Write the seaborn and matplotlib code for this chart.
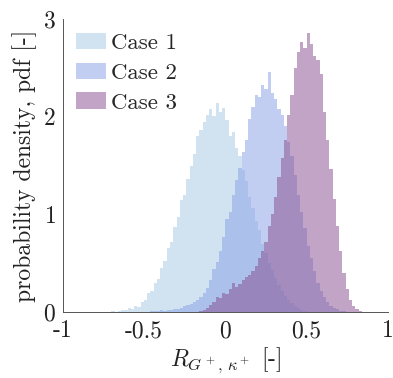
import numpy as np
import pandas as pd
import seaborn as sns
import matplotlib.pyplot as plt

# histogram bins (pdf), bin width 0.02
bin_width = 0.02

case1_start = -0.72
case1_pdf = [0.00, 0.01, 0.00, 0.01, 0.02, 0.02, 0.04, 0.03, 0.06, 0.05,
             0.10, 0.12, 0.19, 0.22, 0.30, 0.34, 0.45, 0.52, 0.66, 0.72,
             0.87, 0.97, 1.15, 1.20, 1.36, 1.50, 1.62, 1.80, 1.86, 1.95,
             2.02, 2.08, 2.01, 2.14, 2.05, 2.09, 1.97, 1.80, 1.84, 1.68,
             1.60, 1.45, 1.34, 1.18, 1.07, 0.93, 0.84, 0.70, 0.60, 0.50,
             0.43, 0.35, 0.28, 0.22, 0.16, 0.12, 0.09, 0.06, 0.04, 0.02,
             0.01]

case2_start = -0.48
case2_pdf = [0.00, 0.01, 0.01, 0.01, 0.02, 0.01, 0.02, 0.02, 0.03, 0.03,
             0.04, 0.06, 0.07, 0.08, 0.10, 0.12, 0.15, 0.19, 0.25, 0.33,
             0.44, 0.51, 0.62, 0.77, 0.95, 1.02, 1.20, 1.35, 1.47, 1.64,
             1.76, 1.98, 2.10, 2.22, 2.20, 2.32, 2.28, 2.46, 2.24, 2.18,
             2.08, 2.02, 1.90, 1.74, 1.60, 1.40, 1.20, 1.02, 0.86, 0.68,
             0.55, 0.42, 0.30, 0.21, 0.15, 0.10, 0.06, 0.04, 0.03, 0.01,
             0.01]

case3_start = -0.18
case3_pdf = [0.00, 0.01, 0.02, 0.04, 0.07, 0.10, 0.15, 0.14, 0.19, 0.18,
             0.24, 0.30, 0.26, 0.29, 0.33, 0.36, 0.38, 0.42, 0.47, 0.55,
             0.62, 0.72, 0.88, 1.00, 1.18, 1.38, 1.58, 1.76, 2.02, 2.22,
             2.50, 2.66, 2.76, 2.70, 2.86, 2.74, 2.62, 2.58, 2.44, 2.05,
             1.76, 1.46, 1.16, 0.88, 0.62, 0.40, 0.24, 0.12, 0.06, 0.03,
             0.01, 0.00]

labels = ['Case 1', 'Case 2', 'Case 3']
colors = ['#a5c7e3', '#879fe5', '#874b8f']

x_ticks = [-1, -0.5, 0, 0.5, 1]
x_tick_labels = ['-1', '-0.5', '0', '0.5', '1']
y_ticks = [0, 1, 2, 3]

sns.set_style('white')
plt.rcParams['font.family'] = ['cmr10', 'DejaVu Serif']
plt.rcParams['mathtext.fontset'] = 'cm'
plt.rcParams['axes.unicode_minus'] = False
plt.rcParams['axes.formatter.use_mathtext'] = True

fig = plt.figure(figsize=(3.93, 3.78), dpi=100)
ax = fig.add_axes([0.1595, 0.1746, 0.8275, 0.775])

cases = [(case1_start, case1_pdf), (case2_start, case2_pdf), (case3_start, case3_pdf)]
for (start, pdf), label, color in zip(cases, labels, colors):
    n = len(pdf)
    centers = start + bin_width * (np.arange(n) + 0.5)
    df = pd.DataFrame({'x': centers, 'pdf': pdf})
    sns.histplot(data=df, x='x', weights='pdf', binwidth=bin_width,
                 binrange=(start, start + n * bin_width), stat='count',
                 element='step', fill=True, color=color, alpha=0.5,
                 linewidth=0, label=label, ax=ax)

ax.set_xlim(-1, 1)
ax.set_ylim(0, 3)
ax.set_xticks(x_ticks)
ax.set_xticklabels(x_tick_labels)
ax.set_yticks(y_ticks)
ax.tick_params(direction='in', length=3.5, width=0.6, color='#555555',
               labelsize=17, labelcolor='#222222')
ax.tick_params(axis='x', pad=6)
ax.tick_params(axis='y', pad=5)
for side in ['top', 'right']:
    ax.spines[side].set_visible(False)
for side in ['left', 'bottom']:
    ax.spines[side].set_color('#555555')
    ax.spines[side].set_linewidth(0.7)

ax.set_xlabel(r'$R_{G^+,\,\kappa^+}$ [-]', fontsize=17, labelpad=2, color='#222222')
ax.set_ylabel('probability density, pdf [-]', fontsize=17, labelpad=4, color='#222222')

ax.legend(loc='upper left', frameon=False, fontsize=16.5, handlelength=1.3,
          handleheight=0.72, handletextpad=0.2, labelspacing=0.42,
          borderaxespad=0.4, borderpad=0.2)

plt.savefig('out.png', dpi=100)
